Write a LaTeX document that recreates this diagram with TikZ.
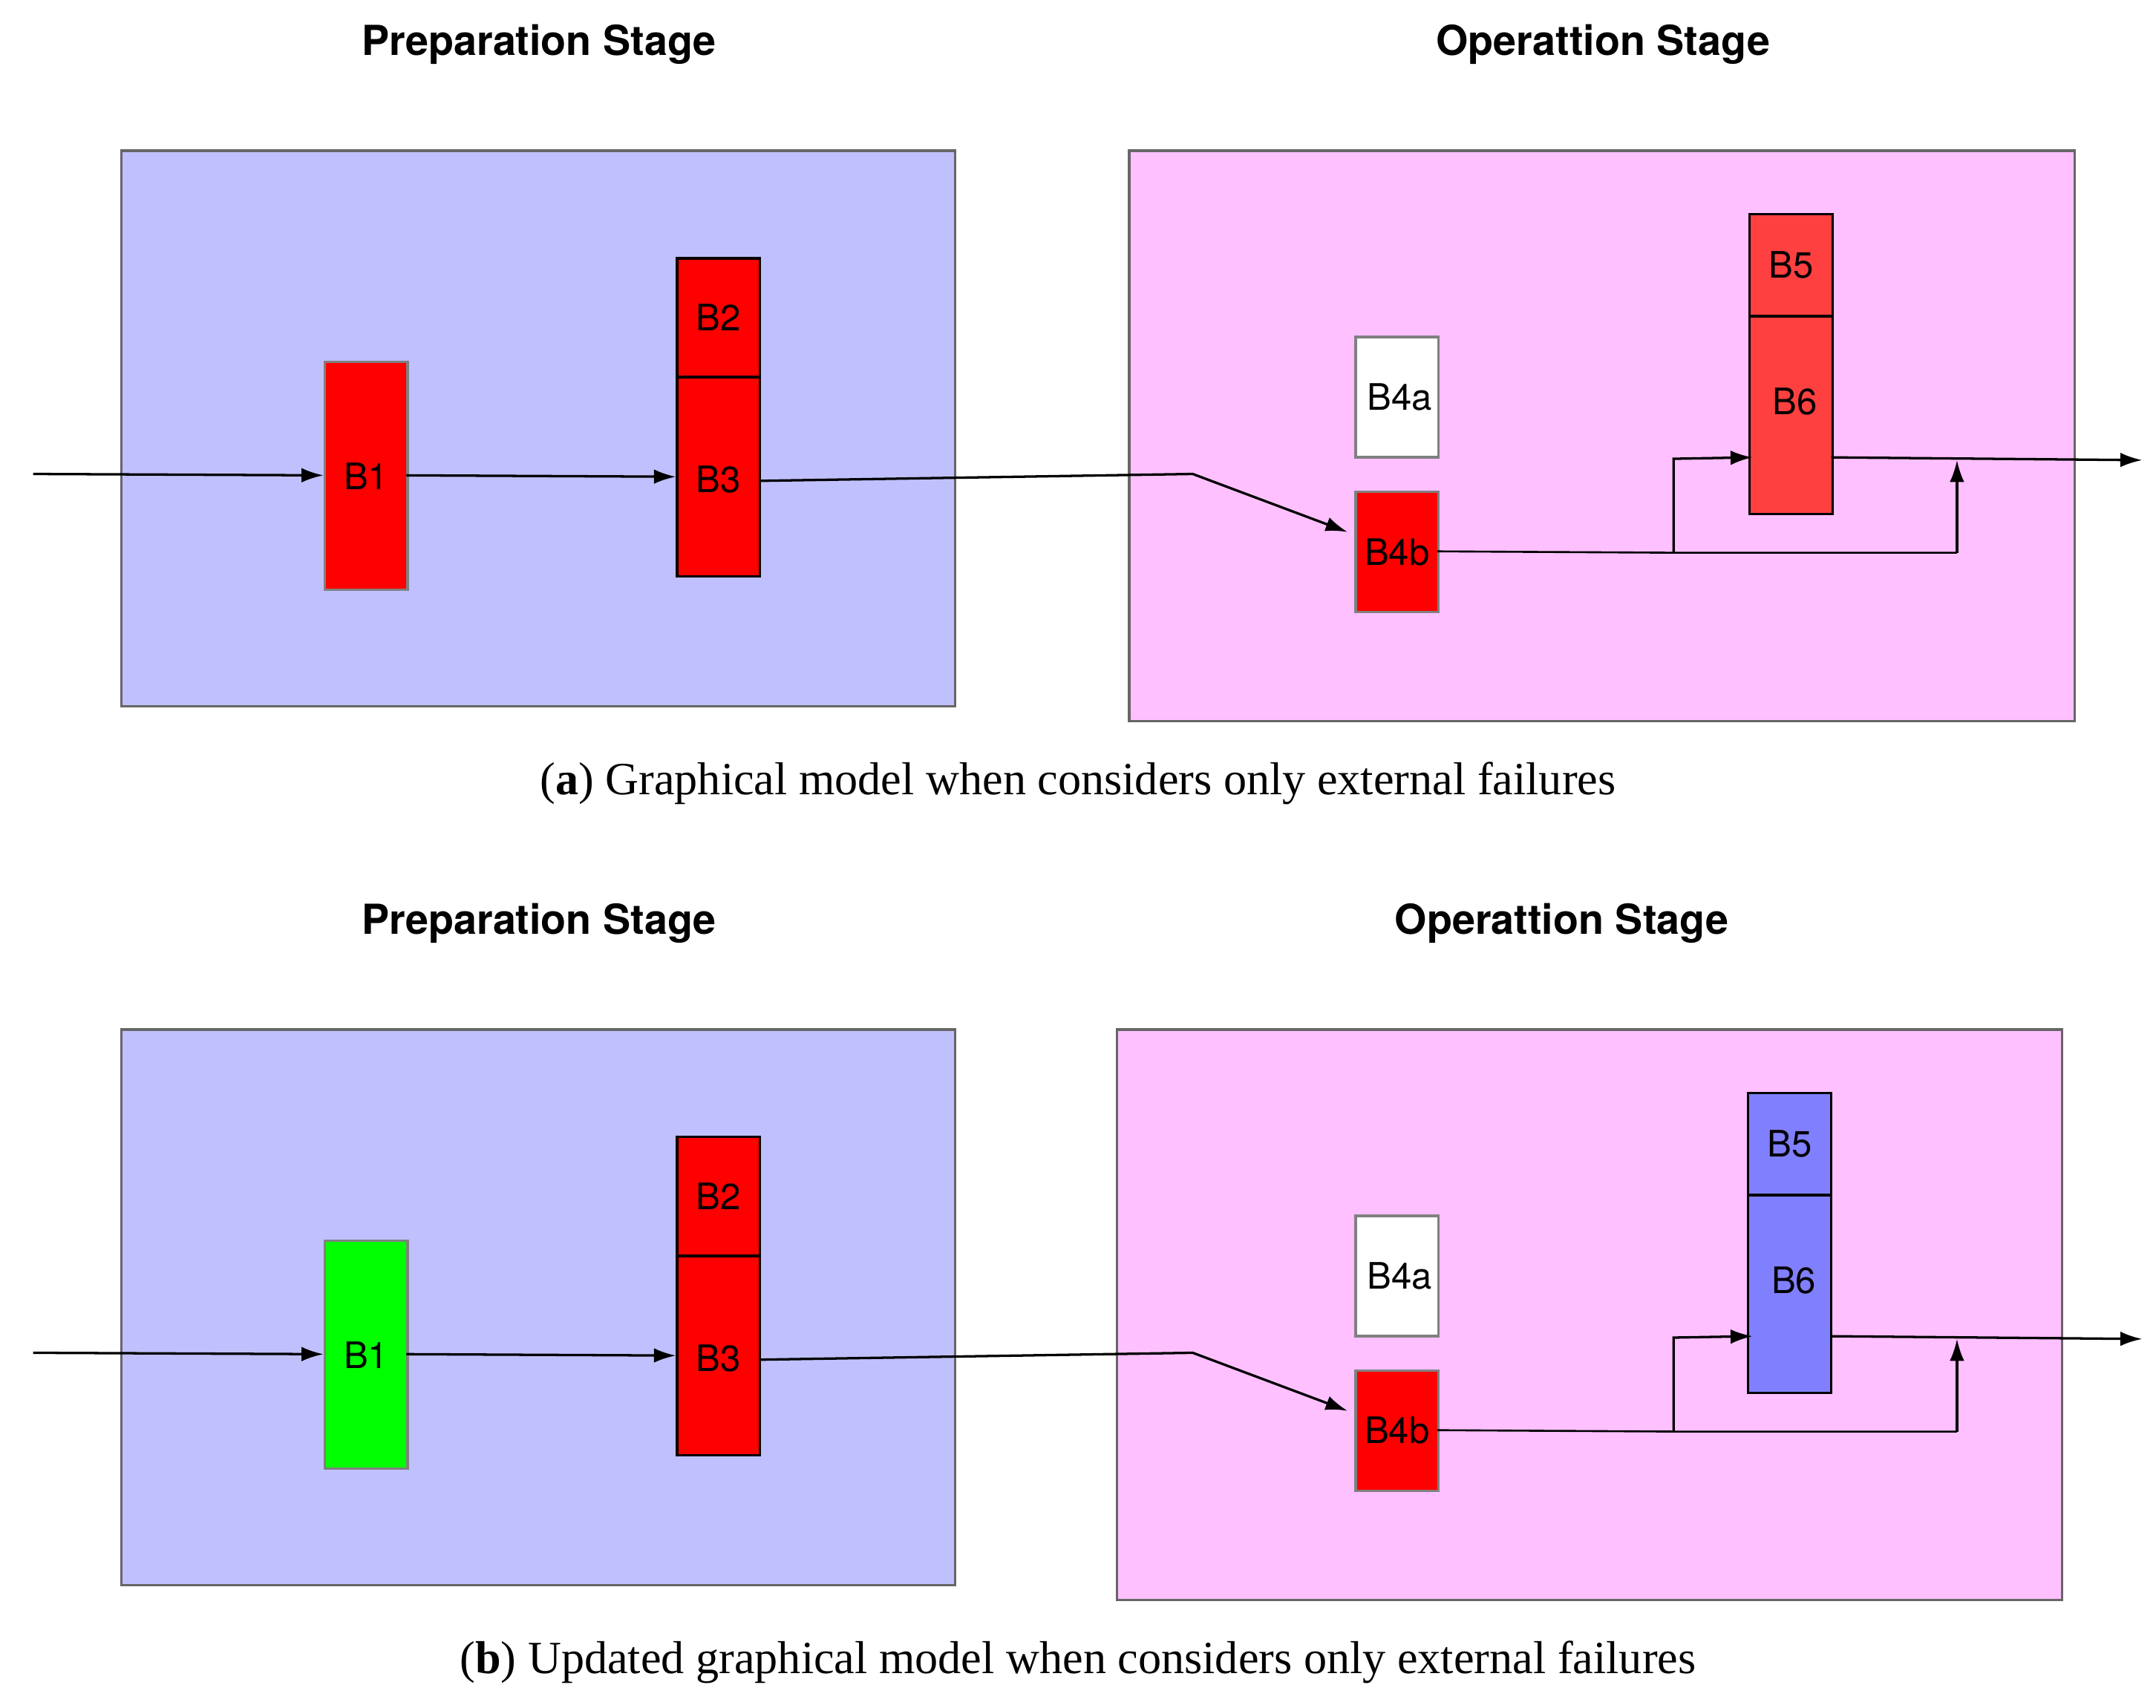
\documentclass[tikz,border=0pt]{standalone}
\usepackage{fontspec}
\setmainfont{TeX Gyre Heros}
\newfontfamily\capfont{Liberation Serif}
\usetikzlibrary{arrows.meta}
\definecolor{prepc}{HTML}{C0C0FF}
\definecolor{opc}{HTML}{FFC0FF}
\definecolor{redb}{HTML}{FF0000}
\definecolor{redl}{HTML}{FF4040}
\definecolor{blueb}{HTML}{8080FF}
\definecolor{greenb}{HTML}{00FF00}
\tikzset{
 stage/.style={draw=gray!80!black, line width=0.5pt},
 blk/.style={draw=black, line width=0.5pt, anchor=north west, inner sep=0pt},
 blkg/.style={draw=gray, line width=0.5pt, anchor=north west, inner sep=0pt},
 lbl/.style={font=\fontsize{7.5}{9}\selectfont},
 ttl/.style={font=\bfseries\fontsize{8.5}{10}\selectfont},
 captxt/.style={font=\capfont\fontsize{9.5}{11}\selectfont},
 arr/.style={-{Latex[length=4.5pt,width=3pt]}, line width=0.5pt},
}
\newcommand\mypanel[9]{%
\begin{scope}[yshift={-#2*0.01cm}]
\node[ttl] at (390,32) {Preparation Stage};
\node[ttl] at (#7,32) {Operattion Stage};
\draw[stage, fill=prepc] (88,109) rectangle (691,511);
\draw[stage, fill=opc] (817+#3,109) rectangle (1501+#3,522);
\node[blkg, fill=#4, minimum width=0.6cm, minimum height=1.65cm] (#1b1) at (234,261) {};
\node[lbl] at (#1b1.center) {B1};
\node[blk, fill=redb, minimum width=0.6cm, minimum height=0.86cm] (#1b2) at (489,186) {};
\node[lbl] at (#1b2.center) {B2};
\node[blk, fill=redb, minimum width=0.6cm, minimum height=1.44cm] (#1b3) at (489,272) {};
\node[lbl] at ([yshift=-0.02cm]#1b3.center) {B3};
\node[blkg, fill=white, minimum width=0.6cm, minimum height=0.87cm] (#1b4a) at (980,243) {};
\node[lbl] at ([xshift=0.02cm]#1b4a.center) {B4a};
\node[blkg, fill=redb, minimum width=0.6cm, minimum height=0.87cm] (#1b4b) at (980,355) {};
\node[lbl] at (#1b4b.center) {B4b};
\node[blk, fill=#5, minimum width=0.6cm, minimum height=0.74cm] (#1b5) at (1265+#6,154) {};
\node[lbl] at (#1b5.center) {B5};
\node[blk, fill=#5, minimum width=0.6cm, minimum height=1.43cm] (#1b6) at (1265+#6,228) {};
\node[lbl] at ([xshift=0.03cm,yshift=0.1cm]#1b6.center) {B6};
\coordinate (#1in) at (24,343);
\coordinate (#1m) at (863,343);
\coordinate (#1s) at (1211,400);
\coordinate (#1t) at (1416,400);
\coordinate (#1out) at (1550,333);
\draw[arr] (#1in) -- (234,344);
\draw[arr] (294,344) -- (489,345);
\draw[arr] (549,348) -- (#1m) -- (975,385);
\draw (1040,399) -- (#1s) -- (#1t);
\draw[arr] (#1s) -- (1211,332) -- (1268,331);
\draw[arr] (#1t) -- (1416,333);
\draw[arr] (1325,331) -- (#1out);
\node[captxt] at (780,567) {(\textbf{#8}) #9};
\end{scope}}
\begin{document}
\begin{tikzpicture}[x=0.01cm,y=-0.01cm]
\useasboundingbox (0,0) rectangle (1560,1236);
\mypanel{a}{0}{0}{redb}{redl}{0}{1160}{a}{Graphical model when considers only external failures}
\mypanel{b}{636}{-9}{greenb}{blueb}{-1}{1130}{b}{Updated graphical model when considers only external failures}
\end{tikzpicture}
\end{document}
